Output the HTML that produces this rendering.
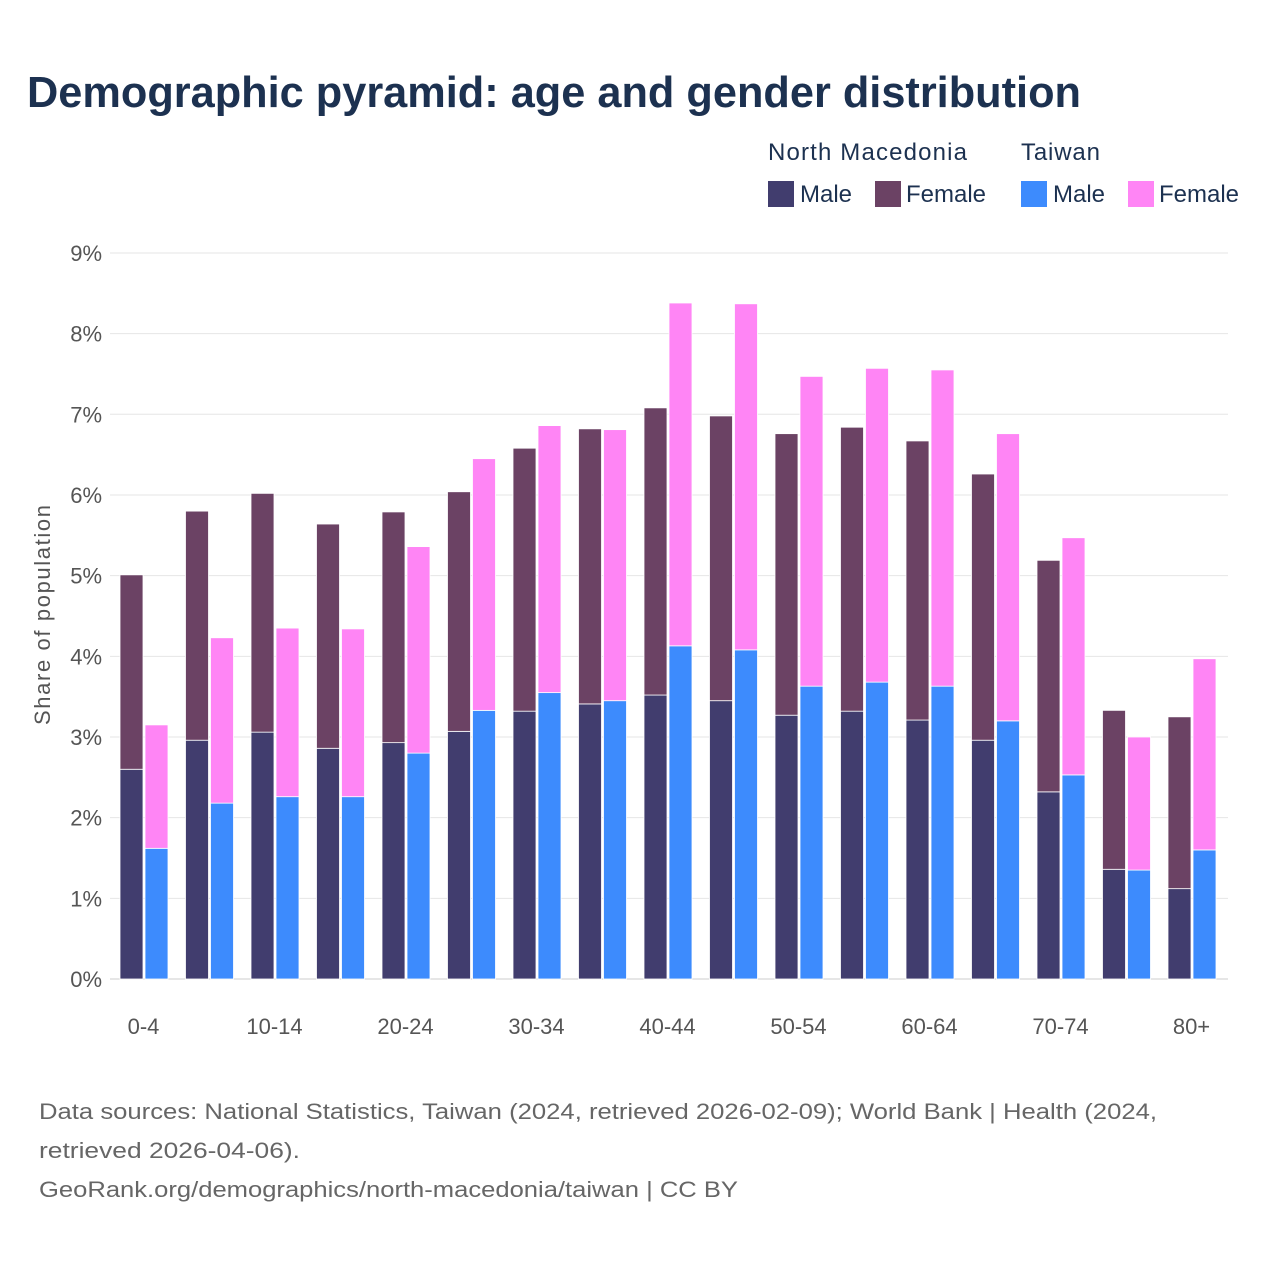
<!DOCTYPE html>
<html><head><meta charset="utf-8"><style>
body{margin:0;background:#fff;font-family:"Liberation Sans",sans-serif}
</style></head><body>
<svg width="1280" height="1280" xmlns="http://www.w3.org/2000/svg">
<text x="27" y="107" font-size="44" font-weight="bold" fill="#1c3150" font-family="Liberation Sans, sans-serif" textLength="1054" lengthAdjust="spacingAndGlyphs">Demographic pyramid: age and gender distribution</text>
<g font-size="24" fill="#1c3150" font-family="Liberation Sans, sans-serif">
<text x="768" y="160" textLength="199">North Macedonia</text>
<text x="1021" y="160" textLength="79">Taiwan</text>
<rect x="768" y="181" width="26" height="26" fill="#413d6e"/>
<text x="800" y="202">Male</text>
<rect x="875" y="181" width="26" height="26" fill="#6b4264"/>
<text x="906" y="202">Female</text>
<rect x="1021" y="181" width="26" height="26" fill="#3d8bfd"/>
<text x="1053" y="202">Male</text>
<rect x="1128" y="181" width="26" height="26" fill="#ff85f5"/>
<text x="1159" y="202">Female</text>
</g>
<text transform="translate(50,615) rotate(-90)" text-anchor="middle" font-size="22" fill="#555" font-family="Liberation Sans, sans-serif" textLength="220">Share of population</text>
<g id="grid"></g><g id="bars"></g><g id="labels"></g>
<g font-size="22" fill="#666" font-family="Liberation Sans, sans-serif">
<text x="39" y="1119" textLength="1118" lengthAdjust="spacingAndGlyphs">Data sources: National Statistics, Taiwan (2024, retrieved 2026-02-09); World Bank | Health (2024,</text>
<text x="39" y="1158" textLength="261" lengthAdjust="spacingAndGlyphs">retrieved 2026-04-06).</text>
<text x="39" y="1197" textLength="699" lengthAdjust="spacingAndGlyphs">GeoRank.org/demographics/north-macedonia/taiwan | CC BY</text>
</g>
</svg>
<script>
const categories=["0-4","5-9","10-14","15-19","20-24","25-29","30-34","35-39","40-44","45-49","50-54","55-59","60-64","65-69","70-74","75-79","80+"];
const nmMale=[2.60,2.96,3.06,2.86,2.93,3.07,3.32,3.41,3.52,3.45,3.27,3.32,3.21,2.96,2.32,1.36,1.12];
const nmFemale=[2.41,2.84,2.96,2.78,2.86,2.97,3.26,3.41,3.56,3.53,3.49,3.52,3.46,3.30,2.87,1.97,2.13];
const twMale=[1.62,2.18,2.26,2.26,2.80,3.33,3.55,3.45,4.13,4.08,3.63,3.68,3.63,3.20,2.53,1.35,1.60];
const twFemale=[1.53,2.05,2.09,2.08,2.56,3.12,3.31,3.36,4.25,4.29,3.84,3.89,3.92,3.56,2.94,1.65,2.37];
const yTicks=[0,1,2,3,4,5,6,7,8,9];
const NS="http://www.w3.org/2000/svg";
const X0=110,X1=1228,Y0=979,YPER=80.67;
const gw=65.5;
const y=v=>Y0-v*YPER;
const gx=i=>120+i*gw;
function mk(tag,attrs){const e=document.createElementNS(NS,tag);for(const k in attrs)e.setAttribute(k,attrs[k]);return e;}
const grid=document.getElementById('grid'),bars=document.getElementById('bars'),labels=document.getElementById('labels');
yTicks.forEach(t=>{
 const l=mk('line',{x1:X0,x2:X1,y1:y(t),y2:y(t),stroke:t===0?'#ccc':'#e6e6e6','stroke-width':1});
 
 
 grid.appendChild(l);
 const tx=mk('text',{x:102,y:y(t)+8,'text-anchor':'end','font-size':22,fill:'#555','font-family':'Liberation Sans, sans-serif'});
 tx.textContent=t+'%';
 
 
 labels.appendChild(tx);
});
function bar(x,v0,v1,fill,name){
 const r=mk('rect',{x:x,y:y(v1),width:23,height:y(v0)-y(v1),fill:fill,stroke:'#fff','stroke-width':0.8});
 
 
 bars.appendChild(r);
}
categories.forEach((c,i)=>{
 const x=gx(i);
 bar(x,0,nmMale[i],'#413d6e','bar-nm-male-'+c);
 bar(x,nmMale[i],nmMale[i]+nmFemale[i],'#6b4264','bar-nm-female-'+c);
 bar(x+25,0,twMale[i],'#3d8bfd','bar-tw-male-'+c);
 bar(x+25,twMale[i],twMale[i]+twFemale[i],'#ff85f5','bar-tw-female-'+c);
 if(i%2===0){
  const tx=mk('text',{x:x+23.5,y:1034,'text-anchor':'middle','font-size':22,fill:'#555','font-family':'Liberation Sans, sans-serif'});
  tx.textContent=c;
  
  
  labels.appendChild(tx);
 }
});
</script>
</body></html>
